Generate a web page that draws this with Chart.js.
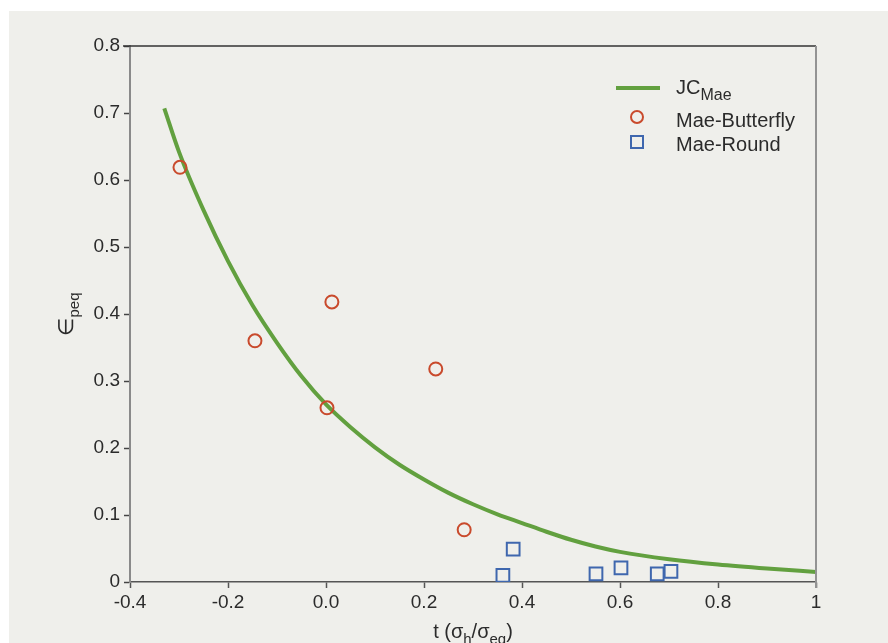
<!DOCTYPE html>
<html>
<head>
<meta charset="utf-8">
<script src="https://cdn.jsdelivr.net/npm/chart.js@4.4.0/dist/chart.umd.min.js"></script>
<style>
  html, body { margin: 0; padding: 0; background: #ffffff; }
  #panel { position: absolute; left: 9px; top: 11px; right: 0; bottom: 0; background: #efefeb; }
  #wrap { position: absolute; left: 0; top: 0; width: 888px; height: 643px; }
</style>
</head>
<body>
<div id="panel"></div>
<div id="wrap"><canvas id="chart" width="888" height="643"></canvas></div>
<script>
// fitted JC curve
const curveT = [-0.33, -0.30, -0.25, -0.20, -0.15, -0.10, -0.05, 0.00, 0.05, 0.10, 0.15, 0.20, 0.25, 0.30, 0.35, 0.40, 0.45, 0.50, 0.55, 0.60, 0.70, 0.80, 0.90, 1.00];
const curveE = [0.707, 0.642, 0.555, 0.479, 0.413, 0.357, 0.307, 0.265, 0.231, 0.201, 0.175, 0.153, 0.133, 0.116, 0.101, 0.088, 0.075, 0.063, 0.053, 0.045, 0.034, 0.026, 0.020, 0.015];

// Mae-Butterfly tests
const butterflyT = [-0.298, -0.145, 0.012, 0.002, 0.224, 0.282];
const butterflyE = [0.619, 0.360, 0.418, 0.260, 0.318, 0.078];

// Mae-Round tests
const roundT = [0.361, 0.382, 0.551, 0.602, 0.676, 0.704];
const roundE = [0.010, 0.049, 0.012, 0.021, 0.012, 0.016];

const xTicks = [-0.4, -0.2, 0.0, 0.2, 0.4, 0.6, 0.8, 1.0];
const yTicks = [0, 0.1, 0.2, 0.3, 0.4, 0.5, 0.6, 0.7, 0.8];

const GREEN = '#62a03f';
const RED = '#c94a2c';
const BLUE = '#3f67ae';
const TEXT = '#2b2b2b';
const FONT = '"Liberation Sans", Arial, sans-serif';

const toPoints = (xs, ys) => xs.map((x, i) => ({ x: x, y: ys[i] }));

// draws text with a subscript part, returns end x
function drawSub(ctx, parts, x, y, size, subSize) {
    let cx = x;
    parts.forEach(p => {
        ctx.font = (p.sub ? subSize : size) + 'px ' + FONT;
        ctx.fillText(p.t, cx, p.sub ? y + size * 0.28 : y);
        cx += ctx.measureText(p.t).width;
    });
    return cx;
}

function measureSub(ctx, parts, size, subSize) {
    let w = 0;
    parts.forEach(p => {
        ctx.font = (p.sub ? subSize : size) + 'px ' + FONT;
        w += ctx.measureText(p.t).width;
    });
    return w;
}

const framePlugin = {
    id: 'frame',
    afterDraw(chart) {
        const ctx = chart.ctx;
        const a = chart.chartArea;
        ctx.save();

        // top and right borders
        ctx.strokeStyle = '#333333';
        ctx.lineWidth = 1.5;
        ctx.beginPath();
        ctx.moveTo(a.left - 7, a.top);
        ctx.lineTo(a.right, a.top);
        ctx.stroke();
        ctx.strokeStyle = '#939393';
        ctx.lineWidth = 2;
        ctx.beginPath();
        ctx.moveTo(a.right, a.top);
        ctx.lineTo(a.right, a.bottom + 6);
        ctx.stroke();

        // axis titles with subscripts
        ctx.fillStyle = TEXT;
        ctx.textBaseline = 'alphabetic';
        ctx.textAlign = 'left';
        const xParts = [{ t: 't (σ' }, { t: 'h', sub: true }, { t: '/σ' }, { t: 'eq', sub: true }, { t: ')' }];
        const xw = measureSub(ctx, xParts, 20, 15);
        drawSub(ctx, xParts, (a.left + a.right) / 2 - xw / 2, a.bottom + 56, 20, 15);

        const yParts = [{ t: '∈' }, { t: 'peq', sub: true }];
        const yw = measureSub(ctx, yParts, 21, 15);
        ctx.save();
        ctx.translate(a.left - 57, (a.top + a.bottom) / 2 + yw / 2);
        ctx.rotate(-Math.PI / 2);
        drawSub(ctx, yParts, 0, 0, 21, 15);
        ctx.restore();

        // legend
        const lx = a.right - 200;
        const ly = a.top + 42;
        const tx = lx + 60;
        ctx.strokeStyle = GREEN;
        ctx.lineWidth = 4;
        ctx.beginPath();
        ctx.moveTo(lx, ly);
        ctx.lineTo(lx + 44, ly);
        ctx.stroke();
        drawSub(ctx, [{ t: 'JC' }, { t: 'Mae', sub: true }], tx, ly + 6, 20, 16);

        ctx.strokeStyle = RED;
        ctx.lineWidth = 2;
        ctx.beginPath();
        ctx.arc(lx + 21, ly + 29, 6, 0, Math.PI * 2);
        ctx.stroke();
        ctx.font = '20px ' + FONT;
        ctx.fillText('Mae-Butterfly', tx, ly + 39);

        ctx.strokeStyle = BLUE;
        ctx.strokeRect(lx + 15, ly + 48, 12, 12);
        ctx.fillText('Mae-Round', tx, ly + 63);

        ctx.restore();
    }
};

new Chart(document.getElementById('chart'), {
    type: 'scatter',
    data: {
        datasets: [
            {
                label: 'JCMae',
                data: toPoints(curveT, curveE),
                showLine: true,
                borderColor: GREEN,
                borderWidth: 4,
                pointRadius: 0,
                cubicInterpolationMode: 'monotone',
                fill: false,
                order: 3
            },
            {
                label: 'Mae-Butterfly',
                data: toPoints(butterflyT, butterflyE),
                pointStyle: 'circle',
                pointRadius: 6.5,
                borderColor: RED,
                borderWidth: 2,
                backgroundColor: 'rgba(0,0,0,0)',
                order: 1
            },
            {
                label: 'Mae-Round',
                data: toPoints(roundT, roundE),
                pointStyle: 'rect',
                pointRadius: 9,
                borderColor: BLUE,
                borderWidth: 2,
                backgroundColor: 'rgba(0,0,0,0)',
                order: 2
            }
        ]
    },
    options: {
        responsive: false,
        animation: false,
        layout: { padding: { left: 70, right: 72, top: 46, bottom: 21 } },
        plugins: {
            legend: { display: false },
            tooltip: { enabled: false }
        },
        scales: {
            x: {
                type: 'linear',
                min: -0.4,
                max: 1,
                afterBuildTicks: s => { s.ticks = xTicks.map(v => ({ value: v })); },
                afterFit: s => { s.height = 40; },
                ticks: {
                    color: TEXT,
                    font: { family: FONT, size: 19 },
                    padding: 3,
                    maxRotation: 0,
                    callback: v => (v === 1 ? '1' : v.toFixed(1))
                },
                grid: { drawOnChartArea: false, drawTicks: true, tickLength: 6, tickColor: '#555555', tickWidth: 1.5 },
                border: { color: '#555555', width: 1.5 }
            },
            y: {
                type: 'linear',
                min: 0,
                max: 0.8,
                afterBuildTicks: s => { s.ticks = yTicks.map(v => ({ value: v })); },
                afterFit: s => { s.width = 60; },
                ticks: {
                    color: TEXT,
                    font: { family: FONT, size: 19 },
                    padding: 4,
                    callback: v => (v === 0 ? '0' : v.toFixed(1))
                },
                grid: { drawOnChartArea: false, drawTicks: true, tickLength: 6, tickColor: '#444444', tickWidth: 1.5 },
                border: { color: '#8a8a8a', width: 2 }
            }
        }
    },
    plugins: [framePlugin]
});
</script>
</body>
</html>
